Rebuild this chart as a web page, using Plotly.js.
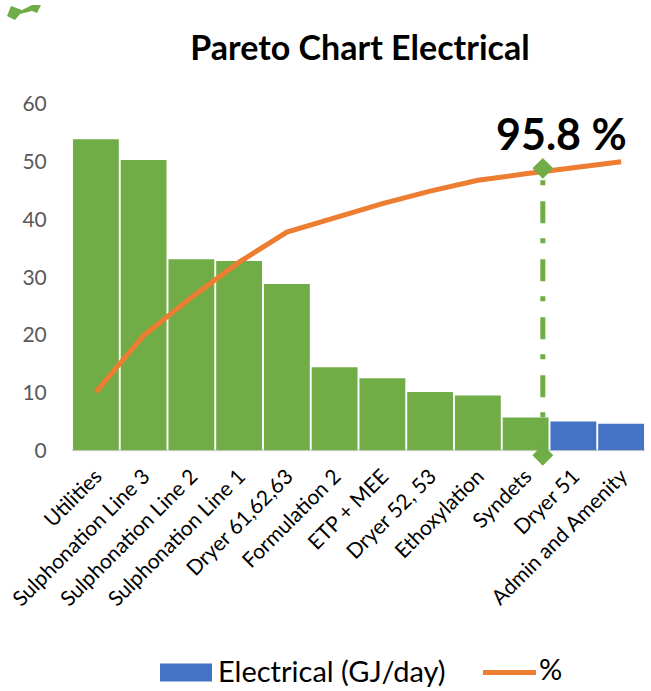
<!DOCTYPE html>
<html>
<head>
<meta charset="utf-8">
<script src="https://cdn.plot.ly/plotly-3.0.1.min.js"></script>
<style>
  html, body { margin: 0; padding: 0; background: #ffffff; }
  #chart { width: 651px; height: 691px; }
</style>
</head>
<body>
<div id="chart"></div>
<script>
// Electrical consumption by area, sorted descending (GJ/day)
const categories = [
  'Utilities', 'Sulphonation Line 3', 'Sulphonation Line 2', 'Sulphonation Line 1',
  'Dryer 61,62,63', 'Formulation 2', 'ETP + MEE', 'Dryer 52, 53',
  'Ethoxylation', 'Syndets', 'Dryer 51', 'Admin and Amenity'
];
const electrical = [53.9, 50.3, 33.1, 32.8, 28.8, 14.4, 12.5, 10.1, 9.5, 5.7, 5.0, 4.6];

// Cumulative share (%) plotted against the hidden secondary axis
const cumulativePct = [20.2, 39.8, 53.0, 65.2, 75.6, 80.6, 85.5, 89.8, 93.6, 95.8, 98.0, 100];

// Areas inside the cut-off are highlighted in green
const highlightCount = 10;
const cutoffLabel = '95.8 %';
// Cut-off marker: position along the category index and vertical extent on the % axis
const cutoffX = [9.36, 9.36];
const cutoffPct = [-1.7, 97.7];

const GREEN = '#70AD47', BLUE = '#4472C4', ORANGE = '#ED7D31';
const FONT = 'Lato, "Open Sans", sans-serif';

// category positions on a linear axis, labelled with the area names
const idx = categories.map((_, i) => i);

// plot area in page pixels: x 72..645, value 0 at y=450, value 60 at y=104
const PL = 72, PR = 645, PT = 104, PB = 450;
const Y_MAX = 60, Y_MIN = -1.5;              // small headroom below zero for the cut-off marker
const pxPerUnit = (PB - PT) / Y_MAX;
const plotBottom = PB - Y_MIN * pxPerUnit;
const px = v => (v - PL) / (PR - PL);
const py = v => (plotBottom - v) / (plotBottom - PT);

const traces = [
  {
    type: 'bar',
    x: idx.slice(0, highlightCount),
    y: electrical.slice(0, highlightCount),
    marker: { color: GREEN },
    showlegend: false,
    hoverinfo: 'y'
  },
  {
    type: 'bar',
    name: 'Electrical (GJ/day)',
    x: idx.slice(highlightCount),
    y: electrical.slice(highlightCount),
    marker: { color: BLUE },
    showlegend: false,
    hoverinfo: 'y'
  },
  {
    type: 'scatter',
    mode: 'lines',
    name: '%',
    x: idx,
    y: cumulativePct,
    yaxis: 'y2',
    line: { color: ORANGE, width: 5 },
    showlegend: false,
    cliponaxis: false
  },
  {
    type: 'scatter',
    mode: 'lines+markers',
    x: cutoffX,
    y: cutoffPct,
    yaxis: 'y2',
    line: { color: GREEN, width: 5, dash: '22px,16px,5px,15px' },
    marker: { symbol: 'diamond', size: 16, color: GREEN },
    showlegend: false,
    cliponaxis: false,
    hoverinfo: 'skip'
  }
];

// baseline, hand-drawn legend and corner mark
const shapes = [
  {
    type: 'line', xref: 'x', yref: 'y', layer: 'below',
    x0: -0.5, x1: categories.length - 0.5, y0: 0, y1: 0,
    line: { color: '#d9d9d9', width: 2 }
  },
  {
    type: 'rect', xref: 'paper', yref: 'paper',
    x0: px(160), x1: px(212), y0: py(681), y1: py(663),
    fillcolor: BLUE, line: { width: 0 }
  },
  {
    type: 'line', xref: 'paper', yref: 'paper',
    x0: px(483), x1: px(536), y0: py(672), y1: py(672),
    line: { color: ORANGE, width: 5 }
  },
  {
    type: 'path', xref: 'paper', yref: 'paper',
    path: (() => {
      const pts = [[11,6],[22,10],[32,5],[41,5],[37,13],[32,11],[20,14],[15,20],[7,16]];
      return pts.map((p, i) => (i ? 'L' : 'M') + px(p[0]) + ',' + py(p[1])).join(' ') + ' Z';
    })(),
    fillcolor: GREEN, line: { width: 0 }
  }
];

const annotations = [
  {
    xref: 'paper', yref: 'paper', x: px(561), y: py(133),
    text: '<b>' + cutoffLabel + '</b>', showarrow: false,
    xanchor: 'center', yanchor: 'middle',
    font: { family: FONT, size: 43, color: '#000000' }
  },
  {
    xref: 'paper', yref: 'paper', x: px(216), y: py(670),
    text: 'Electrical (GJ/day)', showarrow: false,
    xanchor: 'left', yanchor: 'middle',
    font: { family: FONT, size: 29, color: '#000000' }
  },
  {
    xref: 'paper', yref: 'paper', x: px(537), y: py(668),
    text: '%', showarrow: false,
    xanchor: 'left', yanchor: 'middle',
    font: { family: FONT, size: 29, color: '#000000' }
  }
];

const layout = {
  width: 651,
  height: 691,
  margin: { l: PL, r: 651 - PR, t: PT, b: 691 - plotBottom, pad: 0 },
  paper_bgcolor: '#ffffff',
  plot_bgcolor: '#ffffff',
  font: { family: FONT, color: '#000000' },
  title: {
    text: '<b>Pareto Chart Electrical</b>',
    x: px(360), xref: 'paper', xanchor: 'center',
    y: 1 - 48 / 691, yanchor: 'middle',
    font: { family: FONT, size: 34, color: '#000000' }
  },
  barmode: 'overlay',
  bargap: 0.04,
  showlegend: false,
  xaxis: {
    type: 'linear',
    range: [-0.5, categories.length - 0.5],
    tickmode: 'array',
    tickvals: idx,
    ticktext: categories,
    tickangle: -45,
    tickfont: { family: FONT, size: 21, color: '#000000' },
    showline: false,
    showgrid: false, zeroline: false,
    ticks: ''
  },
  yaxis: {
    range: [Y_MIN, Y_MAX],
    tickmode: 'array',
    tickvals: [0, 10, 20, 30, 40, 50, 60],
    tickfont: { family: FONT, size: 21, color: '#595959' },
    showgrid: false, zeroline: false, showline: false,
    ticks: 'outside', ticklen: 20, tickcolor: 'rgba(0,0,0,0)'
  },
  yaxis2: {
    overlaying: 'y',
    range: [Y_MIN * 2, Y_MAX * 2],
    visible: false,
    showgrid: false, zeroline: false
  },
  shapes: shapes,
  annotations: annotations
};

Plotly.newPlot('chart', traces, layout, { staticPlot: true, displayModeBar: false });
</script>
</body>
</html>
